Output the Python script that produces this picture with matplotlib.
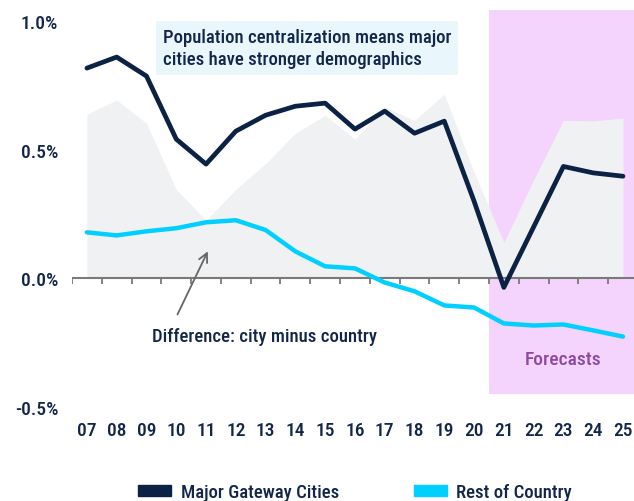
import matplotlib
matplotlib.use("Agg")
import matplotlib.pyplot as plt
from matplotlib.patches import Patch
import numpy as np

plt.rcParams['font.family'] = ['Roboto Condensed', 'Liberation Sans Narrow', 'DejaVu Sans']
plt.rcParams['font.stretch'] = 'condensed'
plt.rcParams['font.weight'] = 'medium'

years = ["07", "08", "09", "10", "11", "12", "13", "14", "15", "16",
         "17", "18", "19", "20", "21", "22", "23", "24", "25"]
gateway = [0.817, 0.86, 0.786, 0.541, 0.444, 0.572, 0.634, 0.669, 0.681, 0.58,
           0.65, 0.564, 0.611, 0.30, -0.035, 0.20, 0.435, 0.41, 0.397]
rest = [0.179, 0.167, 0.183, 0.195, 0.218, 0.226, 0.188, 0.105, 0.047, 0.039,
        -0.016, -0.05, -0.105, -0.113, -0.175, -0.183, -0.179, -0.202, -0.226]
forecast_start = "21"

NAVY = "#0b2244"
CYAN = "#00cfff"
PINK = "#f4d4fc"
GRAY = "#f0f1f3"
TEXT = "#12264a"

fig = plt.figure(figsize=(6.34, 5.02), dpi=100)
ax = fig.add_axes([0.1136, 0.1614, 0.8864, 0.8255])

x = np.arange(len(years))
g = np.array(gateway)
r = np.array(rest)
diff = g - r

YLO, YHI = -0.55, 1.06
fi = years.index(forecast_start)
ax.axvspan(fi - 0.5, len(years) + 1, ymin=(-0.45 - YLO) / (YHI - YLO), ymax=(1.043 - YLO) / (YHI - YLO),
           color=PINK, lw=0, zorder=0)

ax.fill_between(x, 0, diff, color=GRAY, lw=0, zorder=1)

# zero axis line with ticks
ax.plot([-0.5, len(years) + 1], [0, 0], color="#7a7a7a", lw=1.5, zorder=2, solid_capstyle='butt')
ax.vlines(np.append(x - 0.5, x[-1] + 0.5), -0.02, 0, color="#7a7a7a", lw=1.3, zorder=2)

ax.plot(x, r, color=CYAN, lw=3.2, zorder=3, solid_joinstyle='round', solid_capstyle='round')
ax.plot(x, g, color=NAVY, lw=3.4, zorder=4, solid_joinstyle='round', solid_capstyle='round')

ax.set_xlim(-0.5, len(years) - 1 + 0.37)
ax.set_ylim(YLO, YHI)
ax.set_xticks(x)
ax.set_xticklabels(years)
ax.set_yticks([-0.5, 0.0, 0.5, 1.0])
ax.set_yticklabels(["-0.5%", "0.0%", "0.5%", "1.0%"])
ax.tick_params(axis='x', length=0, pad=1, labelsize=14, labelcolor=TEXT)
ax.tick_params(axis='y', length=0, pad=10, labelsize=14, labelcolor=TEXT)
for s in ax.spines.values():
    s.set_visible(False)

# annotation box
ax.text(2.55, 0.895, "Population centralization means major\ncities have stronger demographics",
        fontsize=13.5, color=TEXT, va='center', ha='left', linespacing=1.35, zorder=5,
        bbox=dict(boxstyle='square,pad=0.35', fc="#e9f6fb", ec='none'))

ax.text(2.2, -0.225, "Difference: city minus country", fontsize=13.5, color=TEXT,
        va='center', ha='left', zorder=5)
ax.annotate("", xy=(4.1, 0.115), xytext=(3.0, -0.15),
            arrowprops=dict(arrowstyle='->', color="#666666", lw=1.3, mutation_scale=16), zorder=5)

ax.text(fi + 2.0, -0.315, "Forecasts", fontsize=14, color="#8a4b9f", ha='center', va='center', zorder=5)

handles = [Patch(color=NAVY, label="Major Gateway Cities"), Patch(color=CYAN, label="Rest of Country")]
fig.legend(handles=handles, loc='center', bbox_to_anchor=(0.56, 0.018), ncol=2, frameon=False,
           fontsize=13.5, handlelength=1.75, handleheight=0.55, columnspacing=4.0, handletextpad=0.5,
           labelcolor=TEXT)

fig.savefig("out.png", dpi=100)
